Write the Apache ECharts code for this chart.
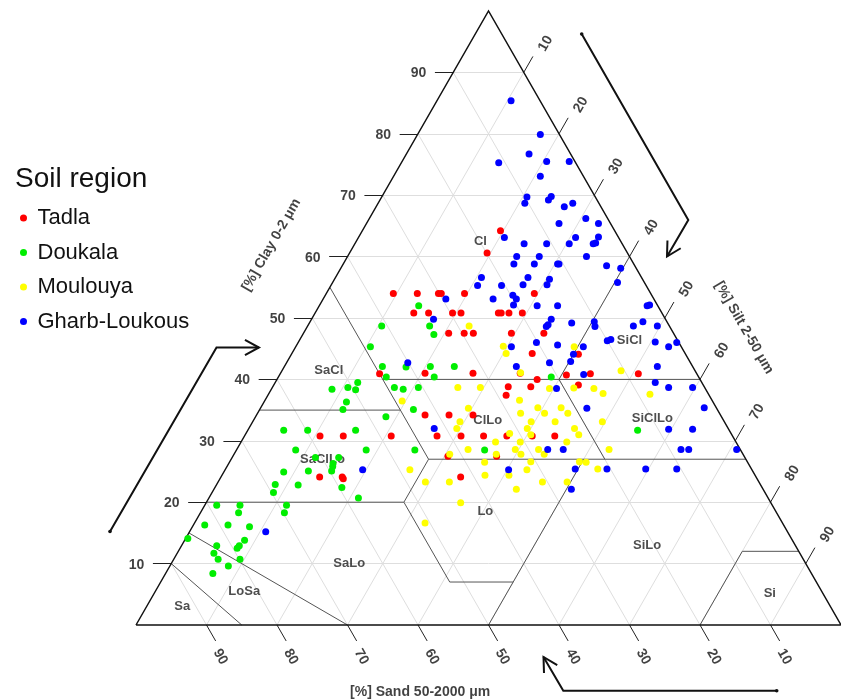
<!DOCTYPE html>
<html>
<head>
<meta charset="utf-8">
<script src="https://cdn.jsdelivr.net/npm/echarts@6/dist/echarts.min.js"></script>
<style>
  html, body { margin: 0; padding: 0; background: #fff; }
  #chart { width: 841px; height: 700px; }
</style>
</head>
<body>
<div id="chart"></div>
<script>
// Soil samples per region as [clay %, silt %]; sand % = 100 - clay - silt
const tadla = [
  [30.8,10.7],[30.8,14.0],[24.1,14.0],[24.1,17.2],[23.8,17.5],[54.0,9.5],[54.0,12.9],
  [54.0,15.9],[54.0,16.3],[54.0,19.6],[50.8,14.0],[50.8,16.1],[50.8,19.5],[50.8,20.7],
  [50.8,26.0],[50.8,26.4],[50.8,27.5],[50.8,29.4],[47.5,20.6],[47.5,22.8],[47.5,24.1],
  [47.5,29.5],[47.5,34.1],[41.0,27.3],[41.0,20.5],[40.9,14.1],[37.4,33.8],[34.2,23.9],
  [34.2,27.3],[34.2,30.7],[30.8,27.3],[30.8,30.7],[30.8,33.9],[30.8,37.2],[30.8,20.8],
  [27.5,30.5],[27.5,37.4],[24.1,34.0],[54.0,29.5],[44.2,34.1],[44.1,40.7],[41.0,34.0],
  [40.0,36.9],[40.7,40.7],[40.9,44.0],[40.9,50.8],[38.8,33.4],[38.8,36.6],[39.1,43.2],
  [30.8,40.8],[30.8,44.0],[64.2,19.6],[60.6,19.5]
];
const doukala = [
  [38.4,8.6],[38.7,10.7],[39.5,11.7],[38.3,12.0],[36.3,11.7],[35.1,11.8],
  [31.7,5.1],[31.7,8.5],[31.7,15.3],[28.5,8.4],[28.5,18.4],[27.3,11.8],[27.3,15.1],
  [26.3,14.8],[25.8,15.0],[25.1,15.2],[25.1,11.9],[24.9,8.5],[22.8,11.6],[22.9,8.3],
  [21.6,8.7],[22.4,18.0],[20.7,21.2],[19.5,1.7],[19.5,5.0],[18.3,5.4],[19.5,11.6],
  [18.3,11.9],[16.3,1.6],[16.3,4.9],[16.0,8.1],[14.1,0.3],[13.8,8.5],[12.9,8.2],
  [12.5,8.1],[12.9,5.0],[11.7,5.2],[10.7,6.3],[10.7,9.4],[9.6,8.3],[8.4,6.7],
  [52.0,14.1],[48.7,10.5],[48.7,17.3],[47.3,18.6],[45.3,10.6],[42.1,13.9],[42.0,17.3],
  [42.1,20.7],[42.1,24.1],[40.4,15.3],[40.4,22.1],[38.7,17.3],[38.4,18.7],[38.7,20.7],
  [35.1,21.8],[33.9,18.5],[28.5,25.3],[28.5,35.2],[40.4,38.7],[31.7,55.3]
];
const moulouya = [
  [48.7,22.9],[45.4,29.4],[44.2,30.4],[38.7,26.3],[38.7,29.5],[36.5,19.5],[35.3,29.5],
  [33.1,29.4],[32.0,29.5],[29.8,36.1],[28.6,32.8],[27.8,30.6],[27.8,37.2],[26.5,36.2],
  [25.3,26.2],[23.3,29.4],[23.3,32.8],[24.4,37.3],[19.9,36.1],[16.6,32.7],
  [41.1,34.0],[45.3,39.5],[38.5,39.4],[38.6,42.8],[38.5,45.7],[37.7,47.4],[41.4,48.1],
  [36.6,36.1],[35.4,39.3],[34.5,40.7],[35.4,42.6],[34.5,44.0],[34.5,37.3],
  [33.1,49.6],[33.1,39.5],[33.1,42.9],[32.0,39.5],[31.2,37.4],[31.0,40.5],[32.0,46.2],
  [31.0,47.3],[29.8,39.6],[29.8,46.2],[28.6,39.5],[27.8,40.7],[28.6,42.8],[27.8,44.0],
  [28.6,52.8],[26.6,42.7],[26.6,49.6],[26.5,50.6],[25.3,42.8],[25.4,52.8],[24.4,40.7],
  [23.3,46.0],[23.3,49.5],[22.1,42.9],[37.6,54.1]
];
const gharbLoukous = [
  [85.4,10.5],[79.9,17.4],[76.7,17.4],[75.3,13.8],[75.5,20.5],[75.5,23.7],[73.1,20.8],
  [69.7,20.6],[68.7,20.8],[69.8,24.0],[69.2,23.9],[68.1,26.7],[68.7,27.6],[65.4,27.3],
  [66.2,30.7],[65.4,32.9],[63.1,20.7],[62.1,24.0],[62.1,27.2],[62.1,30.4],[63.1,30.8],
  [62.1,33.8],[62.2,34.1],[63.2,34.0],[60.0,24.0],[60.0,27.2],[58.8,24.2],[58.8,27.1],
  [58.8,30.4],[58.8,30.6],[60.0,33.9],[58.5,37.5],[58.1,39.7],[55.8,40.4],[56.6,20.7],
  [55.3,20.8],[55.3,24.2],[56.6,27.3],[55.4,27.2],[56.3,30.5],[55.4,30.6],
  [53.7,26.6],[53.1,27.4],[52.1,27.5],[52.0,30.9],[52.0,33.8],[49.8,34.0],[48.9,34.0],
  [48.6,33.9],[49.2,37.2],[49.4,40.3],[48.6,40.8],[45.3,30.6],[46.0,33.8],[45.6,37.0],
  [45.3,40.8],[46.3,43.7],[46.5,44.1],[44.1,40.0],[42.1,32.9],[42.7,37.3],[42.9,40.2],
  [38.5,40.4],[40.8,43.1],[35.3,46.3],[53.1,17.4],[53.1,24.1],[49.8,17.3],[42.7,17.2],
  [32.0,26.3],[25.3,19.5],[25.3,40.2],[28.6,44.1],[28.6,46.3],[25.4,49.6],[25.4,54.1],
  [22.1,50.7],[15.2,10.8],[52.0,46.5],[52.1,46.8],[48.7,46.2],[49.4,47.2],[48.7,49.6],
  [46.1,50.6],[45.3,52.9],[46.0,53.7],[42.1,52.9],[39.5,53.9],[38.7,56.2],[38.7,59.6],
  [35.4,62.9],[31.9,59.6],[31.9,63.0],[28.6,63.0],[28.6,64.1],[28.6,70.9],[25.4,59.6],
  [25.4,64.0]
];

// Percent ticks on the three sides
const tickValues = [10, 20, 30, 40, 50, 60, 70, 80, 90];

// USDA texture class boundaries, each a polyline of [clay, silt] vertices
const classBoundaries = [
  [[10,0],[0,15]],
  [[15,0],[0,30]],
  [[20,0],[20,28]],
  [[20,28],[7,41],[7,50]],
  [[20,28],[27,28]],
  [[27,28],[55,0]],
  [[35,0],[35,20]],
  [[27,28],[27,73]],
  [[40,15],[40,60]],
  [[40,40],[60,40]],
  [[27,53],[40,40]],
  [[27,50],[0,50]],
  [[0,80],[12,80],[12,88]]
];

// Texture class names with [clay, silt] anchor
const classNames = ['Cl','SiCl','SaCl','ClLo','SiClLo','SaClLo','Lo','SiLo','SaLo','LoSa','Sa','Si'];
const classAnchors = [
  [62.5,17.6],[46.4,46.8],[41.5,6.6],[33.4,33.2],[33.7,56.4],[26.9,13.0],
  [18.5,40.3],[13.0,66.0],[10.1,25.2],[5.5,12.6],[3.1,5.0],[5.2,87.3]
];

const regionNames = ['Tadla', 'Doukala', 'Moulouya', 'Gharb-Loukous'];
const regionColors = ['#ff0000', '#00ee00', '#ffff00', '#0000ff'];

// Ternary [clay, silt] -> cartesian [x, y] in the equilateral frame
function toXY(clay, silt) { return [silt + clay / 2, clay]; }

const FONT = '"Liberation Sans", Arial, sans-serif';

// light reference grid every 10 %
const gridSegs = [];
tickValues.forEach(function (k) {
  gridSegs.push({ coords: [toXY(k, 0), toXY(k, 100 - k)] });          // clay
  gridSegs.push({ coords: [toXY(0, k), toXY(100 - k, k)] });          // silt
  gridSegs.push({ coords: [toXY(0, 100 - k), toXY(100 - k, 0)] });    // sand
});

// tick marks outside the triangle
const tickSegs = [];
const tickLabels = [];
tickValues.forEach(function (k) {
  const c = toXY(k, 0);
  tickSegs.push({ coords: [c, [c[0] - 2.6, c[1]]] });
  tickLabels.push({ name: String(k), value: [c[0] - 4.94, c[1] - 0.2], label: { rotate: 0 } });
  const s = toXY(100 - k, k);
  tickSegs.push({ coords: [s, [s[0] + 1.3, s[1] + 2.6]] });
  tickLabels.push({ name: String(k), value: [s[0] + 3.09, s[1] + 4.71], label: { rotate: 60 } });
  const d = toXY(0, 100 - k);
  tickSegs.push({ coords: [d, [d[0] + 1.3, d[1] - 2.6]] });
  tickLabels.push({ name: String(k), value: [d[0] + 1.97, d[1] - 5.17], label: { rotate: -60 } });
});

const boundarySegs = classBoundaries.map(function (poly) {
  return { coords: poly.map(function (p) { return toXY(p[0], p[1]); }) };
});

const outline = [{ coords: [toXY(0, 0), toXY(0, 100), toXY(100, 0), toXY(0, 0)] }];

const classLabelData = classNames.map(function (n, i) {
  return { name: n, value: toXY(classAnchors[i][0], classAnchors[i][1]) };
});

const axisTitles = [
  { name: '[%] Clay 0-2 \u03bcm', value: [19.2, 61.9], label: { rotate: 60 } },
  { name: '[%] Silt 2-50 \u03bcm', value: [86.25, 48.4], label: { rotate: -60 } },
  { name: '[%] Sand 50-2000 \u03bcm', value: [40.3, -10.9], label: { rotate: 0 } }
];

function lineLayer(data, color, width, z, poly) {
  return {
    type: 'lines', coordinateSystem: 'cartesian2d', polyline: !!poly, clip: false,
    silent: true, z: z, data: data,
    lineStyle: { color: color, width: width, opacity: 1, curveness: 0 }
  };
}

function textLayer(data, size, weight, color, z) {
  return {
    type: 'scatter', clip: false, silent: true, z: z, symbolSize: 0,
    data: data,
    label: {
      show: true, position: 'inside', formatter: function (p) { return p.name; },
      fontFamily: FONT, fontSize: size, fontWeight: weight, color: color
    }
  };
}

const series = [
  lineLayer(gridSegs, '#dedede', 1, 1, false),
  lineLayer(boundarySegs, '#555', 1, 2, true),
  lineLayer(tickSegs, '#222', 1, 2, false),
  lineLayer(outline, '#111', 1.5, 3, true),
  textLayer(tickLabels, 14, 'bold', '#111', 4),
  textLayer(classLabelData, 13, 'bold', '#222', 4),
  textLayer(axisTitles, 14, 'bold', '#111', 4)
];

[tadla, doukala, moulouya, gharbLoukous].forEach(function (arr, i) {
  series.push({
    type: 'scatter', name: regionNames[i], clip: false, z: 5,
    symbol: 'circle', symbolSize: 7,
    itemStyle: { color: regionColors[i], opacity: 1 },
    data: arr.map(function (p) { return toXY(p[0], p[1]); })
  });
});

// curved arrows indicating reading direction of each axis
function arrow(points, tipLen) {
  const n = points.length;
  const a = points[n - 2], b = points[n - 1];
  const ang = Math.atan2(b[1] - a[1], b[0] - a[0]);
  const l = tipLen || 16;
  const h1 = [b[0] - l * Math.cos(ang - 0.5), b[1] - l * Math.sin(ang - 0.5)];
  const h2 = [b[0] - l * Math.cos(ang + 0.5), b[1] - l * Math.sin(ang + 0.5)];
  return [
    { type: 'polyline', shape: { points: points }, style: { stroke: '#111', lineWidth: 2, fill: null } },
    { type: 'polyline', shape: { points: [h1, b, h2] }, style: { stroke: '#111', lineWidth: 2, fill: null } },
    { type: 'circle', shape: { cx: points[0][0], cy: points[0][1], r: 1.8 }, style: { fill: '#111' } }
  ];
}

const chart = echarts.init(document.getElementById('chart'), null, { renderer: 'canvas' });
chart.setOption({
  animation: false,
  backgroundColor: '#fff',
  title: {
    text: 'Soil region', left: 10, top: 160,
    textStyle: { fontFamily: FONT, fontSize: 28, fontWeight: 'normal', color: '#111' }
  },
  legend: {
    data: regionNames, orient: 'vertical', left: 15, top: 202,
    icon: 'circle', itemWidth: 18, itemHeight: 7, itemGap: 12.5,
    textStyle: { fontFamily: FONT, fontSize: 22, color: '#111' },
    selectedMode: false
  },
  grid: { left: 136, top: 11, width: 709, height: 614 },
  xAxis: { type: 'value', min: 0, max: 100, show: false },
  yAxis: { type: 'value', min: 0, max: 100, show: false },
  series: series,
  graphic: [].concat(
    arrow([[110, 531.5], [216.5, 347.5], [259, 347.5]]),
    arrow([[581.7, 34], [688.3, 220], [667, 256.5]]),
    arrow([[776.7, 690.7], [563.3, 690.7], [543.5, 657]])
  )
});
</script>
</body>
</html>
